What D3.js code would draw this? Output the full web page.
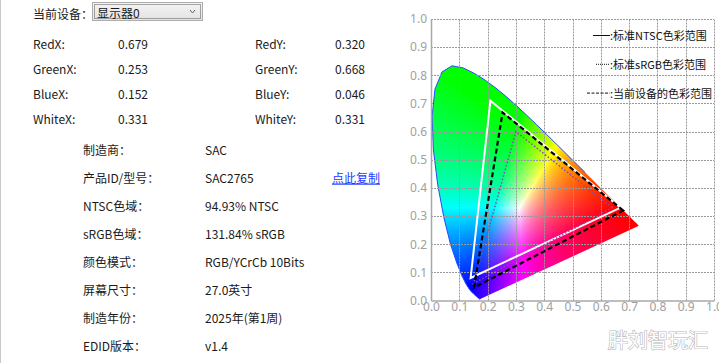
<!DOCTYPE html>
<html>
<head>
<meta charset="utf-8">
<script src="https://cdn.jsdelivr.net/npm/d3@7"></script>
<style>
    body { margin: 0; background: #fff; }
    svg { display: block; font-family: "Noto Sans CJK SC", "Noto Sans", sans-serif; }
</style>
</head>
<body>
<svg id="chart" width="719" height="363"></svg>
<script>
// Lieu spectral CIE 1931 (nm, x, y)
const spectralLocus = [
    [380, 0.1741, 0.0050], [390, 0.1738, 0.0049], [400, 0.1733, 0.0048], [410, 0.1726, 0.0048],
    [420, 0.1714, 0.0051], [425, 0.1703, 0.0058], [430, 0.1689, 0.0069], [435, 0.1669, 0.0086],
    [440, 0.1644, 0.0109], [445, 0.1611, 0.0138], [450, 0.1566, 0.0177], [455, 0.1510, 0.0227],
    [460, 0.1440, 0.0297], [465, 0.1355, 0.0399], [470, 0.1241, 0.0578], [475, 0.1096, 0.0868],
    [480, 0.0913, 0.1327], [485, 0.0687, 0.2007], [490, 0.0454, 0.2950], [495, 0.0235, 0.4127],
    [500, 0.0082, 0.5384], [505, 0.0039, 0.6548], [510, 0.0139, 0.7502], [515, 0.0389, 0.8120],
    [520, 0.0743, 0.8338], [525, 0.1142, 0.8262], [530, 0.1547, 0.8059], [535, 0.1929, 0.7816],
    [540, 0.2296, 0.7543], [545, 0.2658, 0.7243], [550, 0.3016, 0.6923], [555, 0.3373, 0.6589],
    [560, 0.3731, 0.6245], [565, 0.4087, 0.5896], [570, 0.4441, 0.5547], [575, 0.4788, 0.5202],
    [580, 0.5125, 0.4866], [585, 0.5448, 0.4544], [590, 0.5752, 0.4242], [595, 0.6029, 0.3965],
    [600, 0.6270, 0.3725], [605, 0.6482, 0.3514], [610, 0.6658, 0.3340], [615, 0.6801, 0.3197],
    [620, 0.6915, 0.3083], [630, 0.7079, 0.2920], [640, 0.7190, 0.2809], [650, 0.7260, 0.2740],
    [660, 0.7300, 0.2700], [680, 0.7334, 0.2666], [700, 0.7347, 0.2653]
];

// Primaires (x, y) : R, G, B
const ntscPrimaries = [[0.67, 0.33], [0.21, 0.71], [0.14, 0.08]];
const srgbPrimaries = [[0.64, 0.33], [0.30, 0.60], [0.15, 0.06]];
const devicePrimaries = [[0.679, 0.320], [0.253, 0.668], [0.152, 0.046]];
const whitePoint = [0.331, 0.331];

const axisTicks = [0, 0.1, 0.2, 0.3, 0.4, 0.5, 0.6, 0.7, 0.8, 0.9, 1.0];

const legendLabels = [':标准NTSC色彩范围', ':标准sRGB色彩范围', ':当前设备的色彩范围'];

const deviceName = '显示器0';
const infoLabels = ['制造商：', '产品ID/型号：', 'NTSC色域：', 'sRGB色域：', '颜色模式：', '屏幕尺寸：', '制造年份：', 'EDID版本：'];
const infoValues = ['SAC', 'SAC2765', '94.93% NTSC', '131.84% sRGB', 'RGB/YCrCb 10Bits', '27.0英寸', '2025年(第1周)', 'v1.4'];

const svg = d3.select('#chart');
const fmt3 = d3.format('.3f');

// Bordure gauche de la fenêtre
svg.append('line')
    .attr('x1', 0.5).attr('x2', 0.5).attr('y1', 0).attr('y2', 363)
    .attr('stroke', '#c8c8c8');

// ---------- Panneau gauche ----------
const left = svg.append('g').attr('font-size', 12).attr('fill', '#1a1a1a');

left.append('text')
    .attr('x', 33).attr('y', 13)
    .attr('dominant-baseline', 'central')
    .text('当前设备：');

// Combobox
const defs = svg.append('defs');
const grad = defs.append('linearGradient').attr('id', 'comboGrad').attr('x1', 0).attr('x2', 0).attr('y1', 0).attr('y2', 1);
grad.append('stop').attr('offset', '0%').attr('stop-color', '#f4f4f4');
grad.append('stop').attr('offset', '100%').attr('stop-color', '#e2e2e2');

left.append('rect')
    .attr('x', 92.5).attr('y', 2.5).attr('width', 110).attr('height', 18)
    .attr('fill', 'url(#comboGrad)').attr('stroke', '#adadad');
left.append('rect')
    .attr('x', 94.5).attr('y', 4.5).attr('width', 106).attr('height', 14)
    .attr('fill', 'none').attr('stroke', '#555').attr('stroke-dasharray', '1,1');
left.append('text')
    .attr('x', 97).attr('y', 12)
    .attr('dominant-baseline', 'central')
    .text(deviceName);
left.append('path')
    .attr('d', 'M190,10 L192.5,13 L195,10')
    .attr('fill', 'none').attr('stroke', '#666');

// Coordonnées chromatiques
const chromaRows = [
    ['Red', devicePrimaries[0]],
    ['Green', devicePrimaries[1]],
    ['Blue', devicePrimaries[2]],
    ['White', whitePoint]
];
chromaRows.forEach((row, i) => {
    const y = 43 + i * 25;
    left.append('text').attr('x', 33).attr('y', y).attr('dominant-baseline', 'central').text(row[0] + 'X:');
    left.append('text').attr('x', 118).attr('y', y).attr('dominant-baseline', 'central').text(fmt3(row[1][0]));
    left.append('text').attr('x', 255).attr('y', y).attr('dominant-baseline', 'central').text(row[0] + 'Y:');
    left.append('text').attr('x', 335).attr('y', y).attr('dominant-baseline', 'central').text(fmt3(row[1][1]));
});

// Informations EDID
infoLabels.forEach((label, i) => {
    const y = 149 + i * 28.1;
    left.append('text').attr('x', 83).attr('y', y).attr('dominant-baseline', 'central').text(label);
    left.append('text').attr('x', 205).attr('y', y).attr('dominant-baseline', 'central').text(infoValues[i]);
});

left.append('text')
    .attr('x', 332).attr('y', 177)
    .attr('dominant-baseline', 'central')
    .attr('fill', '#1a3cff')
    .attr('text-decoration', 'underline')
    .text('点此复制');

// ---------- Diagramme de chromaticité ----------
const xScale = d3.scaleLinear().domain([0, 1]).range([431, 714]);
const yScale = d3.scaleLinear().domain([0, 1]).range([300.5, 19]);

// Remplissage coloré du lieu spectral (calcul pixel par pixel, sans gamma pour garder la saturation)
const px0 = Math.floor(xScale(0)), px1 = Math.ceil(xScale(1));
const py0 = Math.floor(yScale(1)), py1 = Math.ceil(yScale(0));
const cw = px1 - px0, ch = py1 - py0;
const canvas = document.createElement('canvas');
canvas.width = cw;
canvas.height = ch;
const ctx = canvas.getContext('2d');
const img = ctx.createImageData(cw, ch);
for (let j = 0; j < ch; j++) {
    for (let i = 0; i < cw; i++) {
        const x = xScale.invert(px0 + i + 0.5);
        const y = Math.max(yScale.invert(py0 + j + 0.5), 0.002);
        const X = x / y, Y = 1, Z = (1 - x - y) / y;
        let r = 3.2406 * X - 1.5372 * Y - 0.4986 * Z;
        let g = -0.9689 * X + 1.8758 * Y + 0.0415 * Z;
        let b = 0.0557 * X - 0.2040 * Y + 1.0570 * Z;
        r = Math.max(r, 0); g = Math.max(g, 0); b = Math.max(b, 0);
        const m = Math.max(r, g, b) || 1;
        const k = (j * cw + i) * 4;
        img.data[k] = 255 * Math.pow(r / m, 0.8);
        img.data[k + 1] = 255 * Math.pow(g / m, 0.8);
        img.data[k + 2] = 255 * Math.pow(b / m, 0.8);
        img.data[k + 3] = 255;
    }
}
ctx.putImageData(img, 0, 0);

const locusLine = d3.line().x(d => xScale(d[1])).y(d => yScale(d[2]));
defs.append('clipPath').attr('id', 'locusClip')
    .append('path')
    .attr('d', locusLine(spectralLocus) + 'Z');

svg.append('image')
    .attr('x', px0).attr('y', py0)
    .attr('width', cw).attr('height', ch)
    .attr('href', canvas.toDataURL())
    .attr('clip-path', 'url(#locusClip)');

// Contour bleu du lieu (partie bleue/verte seulement)
svg.append('path')
    .attr('d', locusLine(spectralLocus.filter(d => d[0] <= 585)))
    .attr('fill', 'none')
    .attr('stroke', '#2a48ff')
    .attr('stroke-width', 1);

// Grille pointillée
const grid = svg.append('g')
    .attr('stroke', '#9a9a9a')
    .attr('stroke-dasharray', '2,1');
grid.selectAll('.vgrid')
    .data(axisTicks.slice(1))
    .enter().append('line')
    .attr('x1', d => Math.round(xScale(d)) + 0.5)
    .attr('x2', d => Math.round(xScale(d)) + 0.5)
    .attr('y1', yScale(0)).attr('y2', yScale(1));
grid.selectAll('.hgrid')
    .data(axisTicks.slice(1))
    .enter().append('line')
    .attr('y1', d => Math.round(yScale(d)) + 0.5)
    .attr('y2', d => Math.round(yScale(d)) + 0.5)
    .attr('x1', xScale(0)).attr('x2', xScale(1));

// Axes
const xAxis = d3.axisBottom(xScale).tickValues(axisTicks).tickFormat(d3.format('.1f')).tickSize(0).tickPadding(2);
const yAxis = d3.axisLeft(yScale).tickValues(axisTicks).tickFormat(d3.format('.1f')).tickSize(0).tickPadding(4);

const gx = svg.append('g')
    .attr('transform', `translate(0,${yScale(0)})`)
    .call(xAxis);
const gy = svg.append('g')
    .attr('transform', `translate(${xScale(0)},0)`)
    .call(yAxis);
[gx, gy].forEach(g => {
    g.select('.domain').attr('stroke', '#a8a8a8').attr('stroke-width', 1.5);
    g.selectAll('text')
        .attr('fill', '#a0a0a0')
        .attr('font-size', 12)
        .attr('font-family', '"Noto Sans", sans-serif');
});

// Triangles des gamuts
const triLine = d3.line().x(d => xScale(d[0])).y(d => yScale(d[1]));

svg.append('path')
    .attr('d', triLine(ntscPrimaries) + 'Z')
    .attr('fill', 'none')
    .attr('stroke', '#ffffff')
    .attr('stroke-width', 2);

svg.append('path')
    .attr('d', triLine(srgbPrimaries) + 'Z')
    .attr('fill', 'none')
    .attr('stroke', '#8a4aa8')
    .attr('stroke-width', 1.5)
    .attr('stroke-dasharray', '1.5,2');

svg.append('path')
    .attr('d', triLine(devicePrimaries) + 'Z')
    .attr('fill', 'none')
    .attr('stroke', '#000')
    .attr('stroke-width', 2.2)
    .attr('stroke-dasharray', '5,3');

// Légende
const legendStyles = [
    { len: 17, dash: null },
    { len: 14, dash: '1,1' },
    { len: 23, dash: '3,1.5' }
];
const legend = svg.append('g');
legendLabels.forEach((label, i) => {
    const y = 35 + i * 28.8;
    legend.append('line')
        .attr('x1', 610 - legendStyles[i].len).attr('x2', 610)
        .attr('y1', y + 0.5).attr('y2', y + 0.5)
        .attr('stroke', '#111')
        .attr('stroke-dasharray', legendStyles[i].dash);
    legend.append('text')
        .attr('x', 610).attr('y', y)
        .attr('dominant-baseline', 'central')
        .attr('font-size', 11)
        .attr('fill', '#111')
        .text(label);
});

// Filigrane
svg.append('text')
    .attr('x', 708).attr('y', 339)
    .attr('text-anchor', 'end')
    .attr('dominant-baseline', 'central')
    .attr('font-size', 20)
    .attr('fill', '#fff')
    .attr('stroke', '#b8b8b8')
    .attr('stroke-width', 1.2)
    .attr('paint-order', 'stroke')
    .text('胖刘智玩汇');
</script>
</body>
</html>
